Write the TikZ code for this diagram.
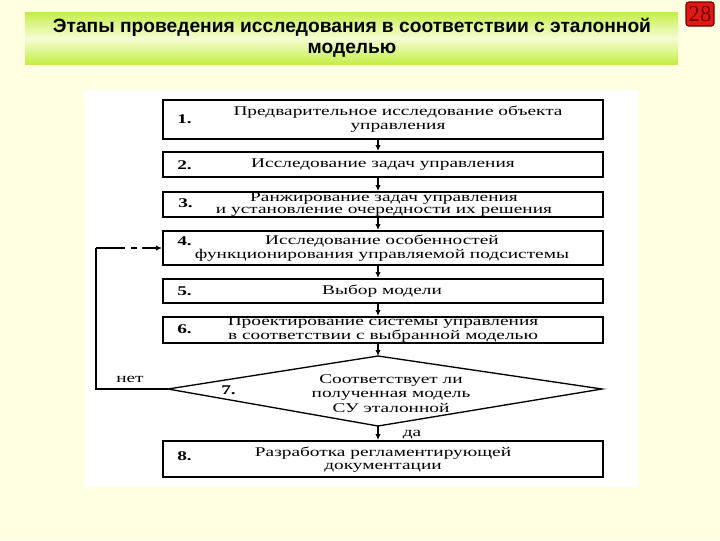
\documentclass[tikz,border=0pt]{standalone}
\usepackage{fontspec}
\usepackage{graphicx}
\setmainfont{Liberation Serif}
\newfontfamily\titlefont{Liberation Sans}
\newfontfamily\boxfont[FakeStretch=1.45]{Liberation Serif}
\usetikzlibrary{arrows.meta}
\definecolor{bgyellow}{RGB}{255,255,226}
\definecolor{bangreen}{RGB}{196,238,70}
\definecolor{banpale}{RGB}{246,253,214}
\definecolor{numred}{RGB}{225,25,20}
\definecolor{numdark}{RGB}{110,0,0}
\tikzset{
  stepbox/.style={draw=black, line width=1.5pt, minimum width=330pt, inner sep=0pt},
  btext/.style={font=\boxfont\fontsize{10}{10.5}\selectfont, align=center, inner sep=0pt},
  numlab/.style={font=\boxfont\bfseries\fontsize{10}{10.5}\selectfont, anchor=west, inner sep=0pt},
  conn/.style={line width=0.8pt},
  arr/.style={line width=0.8pt, -{Latex[length=4.5pt,width=4pt]}},
}
\begin{document}
\begin{tikzpicture}[x=0.75pt,y=-0.75pt]
\useasboundingbox (0,0) rectangle (720,540);
\fill[bgyellow] (0,0) rectangle (720,540);
% title banner
\shade[top color=bangreen, bottom color=bangreen, middle color=banpale] (25,12) rectangle (678,64);
\node[font=\titlefont\bfseries\fontsize{14.4}{15.75}\selectfont, align=center] (title) at (352,38)
  {Этапы проведения исследования в соответствии с эталонной\\моделью};
% page number
\node[draw=numdark, fill=numred, rounded corners=2pt, line width=0.8pt, minimum width=21pt, minimum height=18pt, inner sep=0pt,
  font=\fontsize{17}{17}\selectfont, text=numdark] (pnum) at (700,14) {28};
% white picture area
\fill[white] (85,90) rectangle (638,487);

% boxes
\node[stepbox, minimum height=29.25pt] (b1) at (383,119.5) {};
\node[stepbox, minimum height=18.75pt] (b2) at (383,164.5) {};
\node[stepbox, minimum height=18.75pt] (b3) at (383,204.5) {};
\node[stepbox, minimum height=25.5pt] (b4) at (383,248) {};
\node[stepbox, minimum height=18pt] (b5) at (383,291) {};
\node[stepbox, minimum height=19.5pt] (b6) at (383,330) {};
\node[stepbox, minimum height=27pt] (b8) at (383,459) {};

% diamond
\coordinate (d7t) at (378,356);
\coordinate (d7r) at (602,389);
\coordinate (d7b) at (378,426);
\coordinate (d7l) at (168,389);
\draw[line width=1pt] (d7t) -- (d7r) -- (d7b) -- (d7l) -- cycle;

% texts
\node[btext] (t1) at (398,119) {Предварительное исследование объекта\\управления};
\node[btext] (t2) at (383,165) {Исследование задач управления};
\node[btext, font=\boxfont\fontsize{10}{9}\selectfont] (t3) at (384,205) {Ранжирование задач управления\\и установление очередности их решения};
\node[btext] (t4) at (382,248) {Исследование особенностей\\функционирования управляемой подсистемы};
\node[btext] (t5) at (382,291) {Выбор модели};
\node[btext] (t6) at (383,330) {Проектирование системы управления\\в соответствии с выбранной моделью};
\node[btext, font=\boxfont\fontsize{10}{10.8}\selectfont] (t7) at (391,393.5) {Соответствует ли\\полученная модель\\СУ эталонной};
\node[btext, font=\boxfont\fontsize{10}{9.8}\selectfont] (t8) at (383,459.5) {Разработка регламентирующей\\документации};

\node[numlab] (n1) at (177,119) {1.};
\node[numlab] (n2) at (177,165) {2.};
\node[numlab] (n3) at (178,203) {3.};
\node[numlab] (n4) at (177,241) {4.};
\node[numlab] (n5) at (177,291) {5.};
\node[numlab] (n6) at (177,329) {6.};
\node[numlab] (n7) at (221,390) {7.};
\node[numlab] (n8) at (177,456) {8.};

% connectors
\coordinate (ax) at (378,0);
\draw[arr] (b1.south -| ax) -- (b2.north -| ax);
\draw[arr] (b2.south -| ax) -- (b3.north -| ax);
\draw[arr] (b3.south -| ax) -- (b4.north -| ax);
\draw[arr] (b4.south -| ax) -- (b5.north -| ax);
\draw[arr] (b5.south -| ax) -- (b6.north -| ax);
\draw[arr] (b6.south -| ax) -- (d7t);
\draw[arr] (d7b) -- (b8.north -| ax);
\node[btext] (yes) at (412,434.5) {да};

% feedback loop
\coordinate (lp1) at (96,389);
\coordinate (lp2) at (96,248);
\draw[conn] (d7l) -- (lp1) -- (lp2);
\draw[arr, dash pattern=on 22pt off 4.5pt on 4pt off 4pt on 30pt] (lp2) -- (b4.west);
\node[btext] (no) at (130,379) {нет};
\end{tikzpicture}
\end{document}
